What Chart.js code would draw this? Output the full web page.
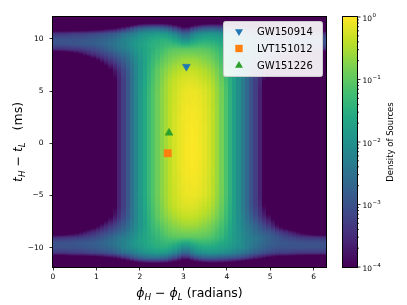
<!DOCTYPE html>
<html>
<head>
<meta charset="utf-8">
<script src="https://cdn.jsdelivr.net/npm/chart.js@4.4.1/dist/chart.umd.min.js"></script>
<style>
  html, body { margin: 0; padding: 0; background: #fff; }
</style>
</head>
<body>
<canvas id="canvas" width="407" height="305"></canvas>
<script>
// density grid: column centres in phi (rad), rows in dt (ms), values are log10(density)
const phiCols = [0.10, 0.29, 0.49, 0.69, 0.88, 1.08, 1.28, 1.47, 1.67, 1.87, 2.06, 2.26, 2.45, 2.65, 2.85, 3.04,
                 3.24, 3.44, 3.63, 3.83, 4.03, 4.22, 4.42, 4.61, 4.81, 5.01, 5.20, 5.40, 5.60, 5.79, 5.99, 6.19];
const tRows = [12, 11.5, 11, 10.5, 10, 9.5, 9, 8.5, 8, 7, 6, 5, 4, 3, 2, 1, 0,
               -1, -2, -3, -4, -5, -6, -7, -8, -8.5, -9, -9.5, -10, -10.5, -11, -11.5, -12];
const logDensity = [
  [-5,-5,-5,-5,-5,-5,-5,-5,-5,-5,-5,-5,-5,-5,-5,-5,-5,-5,-5,-5,-5,-5,-5,-5,-5,-5,-5,-5,-5,-5,-5,-5],
  [-5,-5,-5,-5,-5,-5,-5,-5,-4.8,-4.4,-4.1,-4.0,-4.0,-4.1,-4.4,-4.9,-4.5,-4.2,-4.1,-4.1,-4.2,-4.4,-4.7,-5,-5,-5,-5,-5,-5,-5,-5,-5],
  [-4.6,-4.6,-4.5,-4.5,-4.4,-4.3,-4.1,-3.9,-3.5,-3.0,-2.7,-2.6,-2.6,-2.8,-3.3,-3.8,-3.2,-2.9,-2.8,-2.9,-3.0,-3.1,-3.3,-3.6,-3.9,-4.2,-4.4,-4.5,-4.5,-4.6,-4.6,-4.6],
  [-3.4,-3.4,-3.3,-3.3,-3.2,-3.1,-3.0,-2.8,-2.5,-2.3,-2.0,-1.9,-1.8,-1.9,-2.3,-2.8,-2.2,-2.0,-1.9,-2.0,-2.1,-2.3,-2.5,-2.8,-3.0,-3.2,-3.3,-3.3,-3.4,-3.4,-3.4,-3.4],
  [-3.0,-3.0,-3.0,-2.95,-2.9,-2.8,-2.7,-2.5,-2.2,-2.0,-1.8,-1.6,-1.5,-1.5,-1.8,-2.2,-1.8,-1.6,-1.6,-1.7,-1.8,-2.0,-2.2,-2.5,-2.7,-2.9,-3.0,-3.0,-3.0,-3.0,-3.0,-3.0],
  [-3.0,-3.0,-2.95,-2.9,-2.85,-2.75,-2.6,-2.4,-2.2,-1.9,-1.7,-1.5,-1.4,-1.3,-1.4,-1.6,-1.4,-1.3,-1.35,-1.5,-1.7,-1.9,-2.2,-2.4,-2.6,-2.8,-2.9,-2.95,-3.0,-3.0,-3.0,-3.0],
  [-3.5,-3.45,-3.4,-3.3,-3.2,-3.0,-2.8,-2.5,-2.3,-2.0,-1.7,-1.5,-1.3,-1.1,-1.0,-1.0,-1.0,-1.0,-1.1,-1.3,-1.6,-1.9,-2.2,-2.4,-2.6,-2.8,-3.0,-3.2,-3.3,-3.4,-3.45,-3.5],
  [-4.8,-4.6,-4.3,-3.9,-3.6,-3.3,-3.1,-2.8,-2.5,-2.1,-1.75,-1.45,-1.2,-0.95,-0.85,-0.8,-0.8,-0.85,-0.95,-1.2,-1.55,-1.9,-2.25,-2.5,-2.8,-3.0,-3.3,-3.6,-3.9,-4.3,-4.6,-4.8],
  [-5,-5,-5,-4.8,-4.3,-3.8,-3.4,-3.1,-2.7,-2.2,-1.8,-1.4,-1.1,-0.85,-0.7,-0.6,-0.6,-0.7,-0.85,-1.1,-1.5,-1.9,-2.3,-2.6,-3.0,-3.4,-3.9,-4.4,-4.8,-5,-5,-5],
  [-5,-5,-5,-5,-5,-4.8,-4.2,-3.6,-3.0,-2.3,-1.8,-1.3,-0.9,-0.65,-0.45,-0.35,-0.35,-0.45,-0.6,-0.9,-1.4,-1.9,-2.4,-2.9,-3.5,-4.0,-4.8,-5,-5,-5,-5,-5],
  [-5,-5,-5,-5,-5,-5,-4.8,-3.8,-3.1,-2.3,-1.75,-1.25,-0.85,-0.5,-0.3,-0.2,-0.2,-0.3,-0.45,-0.8,-1.35,-1.9,-2.5,-3.1,-3.7,-4.8,-5,-5,-5,-5,-5,-5],
  [-5,-5,-5,-5,-5,-5,-5,-3.8,-3.1,-2.3,-1.7,-1.2,-0.8,-0.47,-0.25,-0.12,-0.1,-0.17,-0.35,-0.72,-1.3,-1.9,-2.5,-3.1,-3.8,-5,-5,-5,-5,-5,-5,-5],
  [-5,-5,-5,-5,-5,-5,-5,-3.8,-3.1,-2.3,-1.7,-1.2,-0.8,-0.46,-0.23,-0.09,-0.07,-0.14,-0.33,-0.71,-1.3,-1.9,-2.5,-3.1,-3.8,-5,-5,-5,-5,-5,-5,-5],
  [-5,-5,-5,-5,-5,-5,-5,-3.8,-3.1,-2.3,-1.7,-1.2,-0.8,-0.45,-0.21,-0.07,-0.04,-0.12,-0.31,-0.7,-1.3,-1.9,-2.5,-3.1,-3.8,-5,-5,-5,-5,-5,-5,-5],
  [-5,-5,-5,-5,-5,-5,-5,-3.8,-3.1,-2.3,-1.7,-1.2,-0.8,-0.45,-0.2,-0.06,-0.02,-0.11,-0.3,-0.7,-1.3,-1.9,-2.5,-3.1,-3.8,-5,-5,-5,-5,-5,-5,-5],
  [-5,-5,-5,-5,-5,-5,-5,-3.8,-3.1,-2.3,-1.7,-1.2,-0.8,-0.45,-0.2,-0.05,-0.01,-0.1,-0.3,-0.7,-1.3,-1.9,-2.5,-3.1,-3.8,-5,-5,-5,-5,-5,-5,-5],
  [-5,-5,-5,-5,-5,-5,-5,-3.8,-3.1,-2.3,-1.7,-1.2,-0.8,-0.45,-0.2,-0.05,0,-0.1,-0.3,-0.7,-1.3,-1.9,-2.5,-3.1,-3.8,-5,-5,-5,-5,-5,-5,-5],
  [-5,-5,-5,-5,-5,-5,-5,-3.8,-3.1,-2.3,-1.7,-1.2,-0.8,-0.45,-0.2,-0.04,0,-0.09,-0.3,-0.7,-1.3,-1.9,-2.5,-3.1,-3.8,-5,-5,-5,-5,-5,-5,-5],
  [-5,-5,-5,-5,-5,-5,-5,-3.8,-3.1,-2.3,-1.7,-1.2,-0.8,-0.45,-0.2,-0.05,-0.01,-0.1,-0.3,-0.7,-1.3,-1.9,-2.5,-3.1,-3.8,-5,-5,-5,-5,-5,-5,-5],
  [-5,-5,-5,-5,-5,-5,-5,-3.8,-3.1,-2.3,-1.7,-1.2,-0.8,-0.45,-0.21,-0.07,-0.03,-0.12,-0.31,-0.7,-1.3,-1.9,-2.5,-3.1,-3.8,-5,-5,-5,-5,-5,-5,-5],
  [-5,-5,-5,-5,-5,-5,-5,-3.8,-3.1,-2.3,-1.7,-1.2,-0.8,-0.46,-0.23,-0.09,-0.06,-0.14,-0.33,-0.71,-1.3,-1.9,-2.5,-3.1,-3.8,-5,-5,-5,-5,-5,-5,-5],
  [-5,-5,-5,-5,-5,-5,-5,-3.8,-3.1,-2.3,-1.7,-1.2,-0.8,-0.47,-0.25,-0.12,-0.1,-0.17,-0.35,-0.72,-1.3,-1.9,-2.5,-3.1,-3.8,-5,-5,-5,-5,-5,-5,-5],
  [-5,-5,-5,-5,-5,-5,-4.8,-3.8,-3.1,-2.3,-1.75,-1.25,-0.85,-0.5,-0.3,-0.2,-0.2,-0.3,-0.45,-0.8,-1.35,-1.9,-2.5,-3.1,-3.7,-4.8,-5,-5,-5,-5,-5,-5],
  [-5,-5,-5,-5,-5,-4.8,-4.2,-3.6,-3.0,-2.3,-1.8,-1.3,-0.9,-0.65,-0.45,-0.35,-0.35,-0.45,-0.6,-0.9,-1.4,-1.9,-2.4,-2.9,-3.5,-4.0,-4.8,-5,-5,-5,-5,-5],
  [-5,-5,-5,-4.8,-4.3,-3.8,-3.4,-3.1,-2.7,-2.2,-1.8,-1.4,-1.1,-0.85,-0.7,-0.6,-0.6,-0.7,-0.85,-1.1,-1.5,-1.9,-2.3,-2.6,-3.0,-3.4,-3.9,-4.4,-4.8,-5,-5,-5],
  [-4.8,-4.6,-4.3,-3.9,-3.6,-3.3,-3.1,-2.8,-2.5,-2.1,-1.75,-1.45,-1.2,-0.95,-0.85,-0.8,-0.8,-0.85,-0.95,-1.2,-1.55,-1.9,-2.25,-2.5,-2.8,-3.0,-3.3,-3.6,-3.9,-4.3,-4.6,-4.8],
  [-3.5,-3.45,-3.4,-3.3,-3.2,-3.0,-2.8,-2.5,-2.3,-2.0,-1.7,-1.5,-1.3,-1.1,-1.0,-1.0,-1.0,-1.0,-1.1,-1.3,-1.6,-1.9,-2.2,-2.4,-2.6,-2.8,-3.0,-3.2,-3.3,-3.4,-3.45,-3.5],
  [-3.0,-3.0,-2.95,-2.9,-2.85,-2.75,-2.6,-2.4,-2.2,-1.9,-1.7,-1.5,-1.4,-1.3,-1.4,-1.6,-1.4,-1.3,-1.35,-1.5,-1.7,-1.9,-2.2,-2.4,-2.6,-2.8,-2.9,-2.95,-3.0,-3.0,-3.0,-3.0],
  [-3.0,-3.0,-3.0,-2.95,-2.9,-2.8,-2.7,-2.5,-2.2,-2.0,-1.8,-1.6,-1.5,-1.5,-1.8,-2.2,-1.8,-1.6,-1.6,-1.7,-1.8,-2.0,-2.2,-2.5,-2.7,-2.9,-3.0,-3.0,-3.0,-3.0,-3.0,-3.0],
  [-3.4,-3.4,-3.3,-3.3,-3.2,-3.1,-3.0,-2.8,-2.5,-2.3,-2.0,-1.9,-1.8,-1.9,-2.3,-2.8,-2.2,-2.0,-1.9,-2.0,-2.1,-2.3,-2.5,-2.8,-3.0,-3.2,-3.3,-3.3,-3.4,-3.4,-3.4,-3.4],
  [-4.6,-4.6,-4.5,-4.5,-4.4,-4.3,-4.1,-3.9,-3.5,-3.0,-2.7,-2.6,-2.6,-2.8,-3.3,-3.8,-3.2,-2.9,-2.8,-2.9,-3.0,-3.1,-3.3,-3.6,-3.9,-4.2,-4.4,-4.5,-4.5,-4.6,-4.6,-4.6],
  [-5,-5,-5,-5,-5,-5,-5,-5,-4.8,-4.4,-4.1,-4.0,-4.0,-4.1,-4.4,-4.9,-4.5,-4.2,-4.1,-4.1,-4.2,-4.4,-4.7,-5,-5,-5,-5,-5,-5,-5,-5,-5],
  [-5,-5,-5,-5,-5,-5,-5,-5,-5,-5,-5,-5,-5,-5,-5,-5,-5,-5,-5,-5,-5,-5,-5,-5,-5,-5,-5,-5,-5,-5,-5,-5]
];

// events
const eventNames = ['GW150914', 'LVT151012', 'GW151226'];
const eventPhi = [3.07, 2.64, 2.67];
const eventDt = [7.35, -0.95, 1.0];

// ticks
const xTicks = [0, 1, 2, 3, 4, 5, 6];
const yTicks = [-10, -5, 0, 5, 10];
const cbTicks = [1e-4, 1e-3, 1e-2, 1e-1, 1];

// styles
const eventColors = ['#1f77b4', '#ff7f0e', '#2ca02c'];
const eventMarkers = ['triangle', 'rect', 'triangle'];
const eventRotation = [180, 0, 0];
const eventRadius = [4.6, 5.2, 4.6];
const FONT = 'DejaVu Sans';

const viridisStops = ['#440154', '#482475', '#414487', '#355f8d', '#2a788e', '#21918c',
                      '#22a884', '#44bf70', '#7ad151', '#bddf26', '#fde725']
  .map(h => [parseInt(h.slice(1, 3), 16), parseInt(h.slice(3, 5), 16), parseInt(h.slice(5, 7), 16)]);

function viridis(f) {
    f = Math.min(1, Math.max(0, f));
    let p = f * 10, i = Math.min(9, Math.floor(p)), u = p - i;
    let a = viridisStops[i], b = viridisStops[i + 1];
    return 'rgb(' + Math.round(a[0] + (b[0] - a[0]) * u) + ',' +
        Math.round(a[1] + (b[1] - a[1]) * u) + ',' + Math.round(a[2] + (b[2] - a[2]) * u) + ')';
}
function logColor(v) { return viridis((v + 4) / 4); }

function sampleRow(t) {
    let n = tRows.length;
    if (t >= tRows[0]) return logDensity[0];
    if (t <= tRows[n - 1]) return logDensity[n - 1];
    for (let i = 0; i < n - 1; i++) {
        if (t <= tRows[i] && t >= tRows[i + 1]) {
            let u = (tRows[i] - t) / (tRows[i] - tRows[i + 1]);
            return logDensity[i].map((v, c) => v + (logDensity[i + 1][c] - v) * u);
        }
    }
}
function sampleCol(row, phi) {
    let n = phiCols.length;
    if (phi <= phiCols[0]) return row[0];
    if (phi >= phiCols[n - 1]) return row[n - 1];
    for (let c = 0; c < n - 1; c++) {
        if (phi <= phiCols[c + 1]) {
            let u = (phi - phiCols[c]) / (phiCols[c + 1] - phiCols[c]);
            return row[c] + (row[c + 1] - row[c]) * u;
        }
    }
}

// heatmap under the markers
const heatmapPlugin = {
    id: 'heatmap',
    beforeDatasetsDraw(chart) {
        let ctx = chart.ctx, a = chart.chartArea, x = chart.scales.x, y = chart.scales.y;
        let nBins = 64;
        ctx.save();
        ctx.beginPath();
        ctx.rect(a.left, a.top, a.right - a.left, a.bottom - a.top);
        ctx.clip();
        for (let py = Math.floor(a.top); py < Math.ceil(a.bottom); py++) {
            let row = sampleRow(y.getValueForPixel(py + 0.5));
            for (let b = 0; b < nBins; b++) {
                let pl = x.min + (x.max - x.min) * b / nBins;
                let pr = x.min + (x.max - x.min) * (b + 1) / nBins;
                let xl = Math.round(x.getPixelForValue(pl)), xr = Math.round(x.getPixelForValue(pr));
                ctx.fillStyle = logColor(sampleCol(row, (pl + pr) / 2));
                ctx.fillRect(xl, py, xr - xl, 1);
            }
        }
        ctx.restore();
    }
};

function drawMath(ctx, parts, size) {
    let items = [], total = 0;
    parts.forEach(p => {
        let fs = p.sub ? size * 0.7 : size;
        let font = (p.it ? 'italic ' : '') + fs + 'px "' + FONT + '"';
        ctx.font = font;
        let w = ctx.measureText(p.s).width;
        items.push({ s: p.s, font: font, w: w, dy: p.sub ? size * 0.2 : 0 });
        total += w;
    });
    let cx = -total / 2;
    items.forEach(it => {
        ctx.font = it.font;
        ctx.fillText(it.s, cx, it.dy);
        cx += it.w;
    });
}

function drawMarker(ctx, style, rot, r, x, y) {
    ctx.beginPath();
    if (style === 'rect') {
        let s = Math.SQRT1_2 * r;
        ctx.rect(x - s, y - s, 2 * s, 2 * s);
    } else {
        let d = rot === 180 ? -1 : 1;
        ctx.moveTo(x, y - d * r);
        ctx.lineTo(x + r * Math.sin(Math.PI / 3), y + d * r / 2);
        ctx.lineTo(x - r * Math.sin(Math.PI / 3), y + d * r / 2);
        ctx.closePath();
    }
    ctx.fill();
}

const decorPlugin = {
    id: 'decor',
    afterDraw(chart) {
        let ctx = chart.ctx, a = chart.chartArea, cb = chart.scales.cb;
        ctx.save();

        // frame of the main axes
        ctx.strokeStyle = '#000';
        ctx.lineWidth = 1;
        ctx.strokeRect(Math.round(a.left) - 0.5, Math.round(a.top) - 0.5,
            Math.round(a.right - a.left) + 1, Math.round(a.bottom - a.top) + 1);

        // colorbar
        let cbLeft = 343, cbW = 14;
        for (let py = Math.floor(a.top); py < Math.ceil(a.bottom); py++) {
            let v = cb.getValueForPixel(py + 0.5);
            ctx.fillStyle = logColor(Math.log10(v));
            ctx.fillRect(cbLeft, py, cbW, 1);
        }
        ctx.strokeStyle = '#000';
        ctx.strokeRect(cbLeft - 0.5, Math.round(a.top) - 0.5, cbW + 1, Math.round(a.bottom - a.top) + 1);
        ctx.lineWidth = 0.8;
        ctx.beginPath();
        cbTicks.forEach((v, i) => {
            let py = cb.getPixelForValue(v);
            ctx.moveTo(cbLeft + cbW, py);
            ctx.lineTo(cbLeft + cbW + 3.5, py);
            if (i < cbTicks.length - 1) {
                for (let m = 2; m <= 9; m++) {
                    let pm = cb.getPixelForValue(v * m);
                    ctx.moveTo(cbLeft + cbW, pm);
                    ctx.lineTo(cbLeft + cbW + 2, pm);
                }
            }
        });
        ctx.stroke();
        ctx.fillStyle = '#000';
        ctx.textAlign = 'left';
        ctx.textBaseline = 'alphabetic';
        cbTicks.forEach(v => {
            let py = cb.getPixelForValue(v);
            let e = Math.round(Math.log10(v));
            ctx.font = '7.5px "' + FONT + '"';
            ctx.fillText('10', 362.5, py + 3.5);
            let w = ctx.measureText('10').width;
            ctx.font = '5.5px "' + FONT + '"';
            ctx.fillText(e < 0 ? '\u2212' + (-e) : String(e), 362.5 + w + 0.5, py - 0.5);
        });

        // colorbar label
        ctx.save();
        ctx.translate(391, (a.top + a.bottom) / 2);
        ctx.rotate(-Math.PI / 2);
        ctx.textAlign = 'center';
        ctx.textBaseline = 'middle';
        ctx.font = '8.5px "' + FONT + '"';
        ctx.fillText('Density of Sources', 0, 0);
        ctx.restore();

        // axis titles
        ctx.textAlign = 'left';
        ctx.textBaseline = 'alphabetic';
        ctx.save();
        ctx.translate((a.left + a.right) / 2, 297);
        drawMath(ctx, [{ s: '\u03d5', it: true }, { s: 'H', it: true, sub: true }, { s: ' \u2212 ' },
            { s: '\u03d5', it: true }, { s: 'L', it: true, sub: true }, { s: ' (radians)' }], 12.5);
        ctx.restore();
        ctx.save();
        ctx.translate(22, (a.top + a.bottom) / 2);
        ctx.rotate(-Math.PI / 2);
        drawMath(ctx, [{ s: 't', it: true }, { s: 'H', it: true, sub: true }, { s: ' \u2212 ' },
            { s: 't', it: true }, { s: 'L', it: true, sub: true }, { s: '   (ms)' }], 12.5);
        ctx.restore();

        // legend box
        let lx = 223, ly = 21, lw = 99, lh = 55;
        ctx.fillStyle = 'rgba(255,255,255,0.9)';
        ctx.strokeStyle = '#cccccc';
        ctx.lineWidth = 1;
        ctx.beginPath();
        ctx.roundRect(lx + 0.5, ly + 0.5, lw, lh, 2);
        ctx.fill();
        ctx.stroke();
        ctx.textBaseline = 'middle';
        ctx.font = '10px "' + FONT + '"';
        chart.data.datasets.forEach((ds, i) => {
            let yy = ly + 10.5 + i * 17;
            ctx.fillStyle = ds.pointBackgroundColor;
            drawMarker(ctx, ds.pointStyle, ds.pointRotation, ds.pointRadius, 239, yy);
            ctx.fillStyle = '#000';
            ctx.fillText(ds.label, 257, yy + 0.5);
        });
        ctx.restore();
    }
};

const tickFont = { family: FONT, size: 7.5 };
function minusLabel(v) { return v < 0 ? '\u2212' + Math.abs(v) : String(v); }

new Chart(document.getElementById('canvas'), {
    type: 'scatter',
    data: {
        datasets: eventNames.map((name, i) => ({
            label: name,
            data: [{ x: eventPhi[i], y: eventDt[i] }],
            pointStyle: eventMarkers[i],
            pointRotation: eventRotation[i],
            pointRadius: eventRadius[i],
            pointBackgroundColor: eventColors[i],
            pointBorderColor: eventColors[i],
            pointBorderWidth: 0.5
        }))
    },
    options: {
        responsive: false,
        animation: false,
        devicePixelRatio: 1,
        layout: { padding: { top: 17, right: 81, left: 0, bottom: 0 } },
        plugins: { legend: { display: false }, tooltip: { enabled: false } },
        scales: {
            x: {
                type: 'linear', min: 0, max: 2 * Math.PI,
                afterBuildTicks: s => { s.ticks = xTicks.map(v => ({ value: v })); },
                afterFit: s => { s.height = 38; },
                ticks: { font: tickFont, color: '#000', padding: 2.5, maxRotation: 0, callback: minusLabel },
                grid: { drawOnChartArea: false, tickLength: 3.5, tickColor: '#000', tickWidth: 0.8 },
                border: { display: false }
            },
            y: {
                type: 'linear', min: -11.85, max: 12.1,
                afterBuildTicks: s => { s.ticks = yTicks.map(v => ({ value: v })); },
                afterFit: s => { s.width = 53; },
                ticks: { font: tickFont, color: '#000', padding: 6, callback: minusLabel },
                grid: { drawOnChartArea: false, tickLength: 3.5, tickColor: '#000', tickWidth: 0.8 },
                border: { display: false }
            },
            cb: { type: 'logarithmic', position: 'right', display: false, min: 1e-4, max: 1 }
        }
    },
    plugins: [heatmapPlugin, decorPlugin]
});
</script>
</body>
</html>
